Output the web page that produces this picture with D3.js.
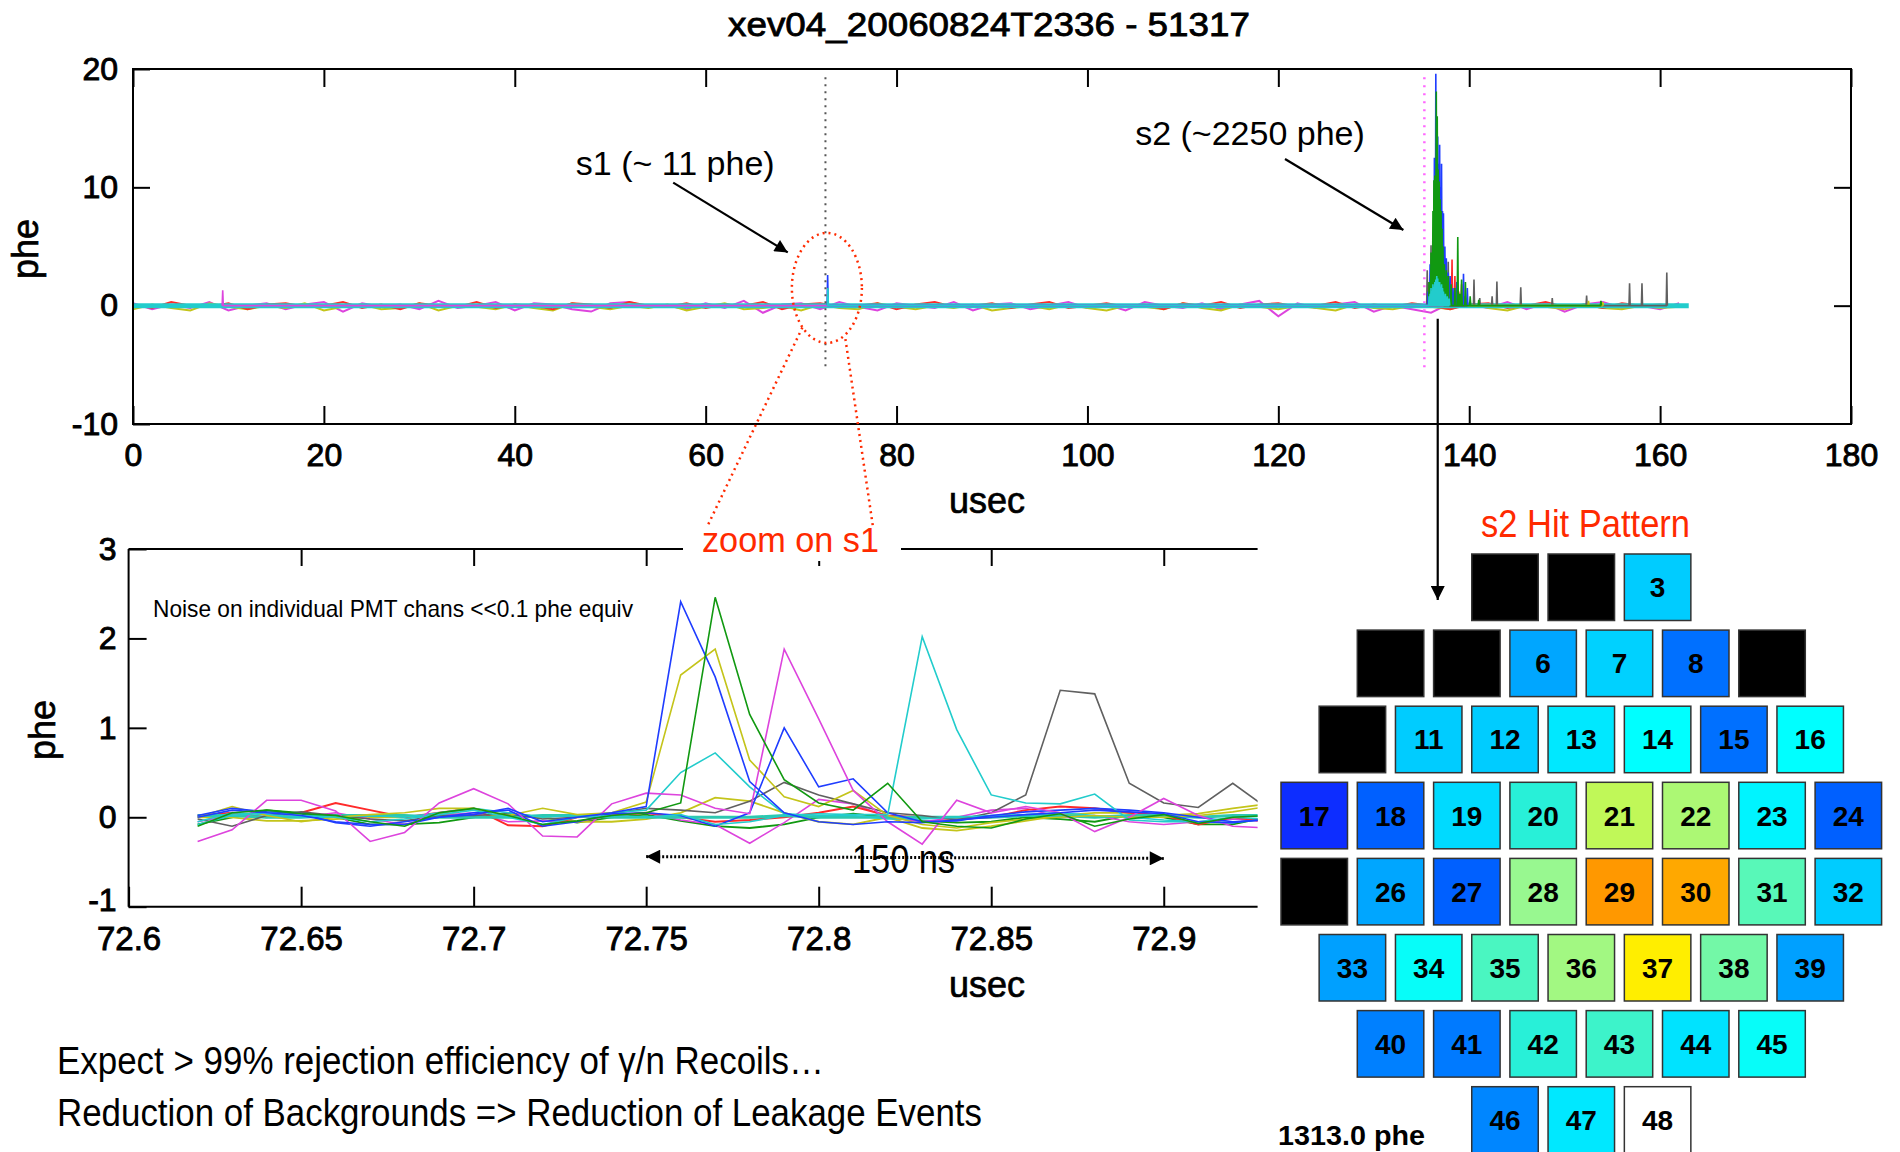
<!DOCTYPE html>
<html>
<head>
<meta charset="utf-8">
<script src="https://cdnjs.cloudflare.com/ajax/libs/d3/7.8.5/d3.min.js"></script>
<style>
  body { margin: 0; background: #fff; }
  svg text { font-family: "Liberation Sans", Arial, Helvetica, sans-serif; }
</style>
</head>
<body>
<svg id="chart" width="1900" height="1152"></svg>
<script>
/*---------- DATA ----------*/
const title = "xev04_20060824T2336 - 51317";

// Full event (top panel), x in usec, y in phe
const topXTicks = [0, 20, 40, 60, 80, 100, 120, 140, 160, 180];
const topYTicks = [-10, 0, 10, 20];
const noiseStep = 2; // usec between baseline samples
const noiseMagenta = [
  0.2, -0.3, 0.1, -0.2, 0.3, -0.4, 0.0, 0.2, -0.3, 0.1,
  0.3, -0.5, 0.2, -0.1, 0.1, -0.3, 0.4, -0.2, 0.0, 0.3,
  -0.4, 0.2, 0.1, -0.3, -0.5, 0.2, 0.3, -0.1, 0.0, -0.3,
  0.2, -0.2, 0.4, -0.6, 0.1, 0.2, -0.3, 0.3, -0.1, -0.4,
  0.2, 0.0, -0.2, 0.3, -0.4, 0.1, 0.2, -0.3, 0.0, 0.3,
  -0.2, 0.1, -0.4, 0.3, 0.0, -0.2, 0.2, -0.3, 0.1, 0.4,
  -0.9, 0.2, -0.2, 0.1, 0.3, -0.5, 0.0, -0.3, -0.6, 0.2,
  0.1, -0.2, 0.3, -0.3, 0.2, -0.5, 0.1, 0.3, -0.2, 0.0,
  -0.3, 0.2,
];
const noiseYellow = [
  -0.3, 0.1, -0.2, -0.4, 0.2, -0.1, -0.3, 0.0, -0.2, 0.2,
  -0.4, -0.1, 0.1, -0.3, -0.2, 0.2, -0.4, 0.0, -0.1, -0.3,
  0.1, -0.2, -0.4, 0.2, -0.1, -0.3, 0.0, -0.2, 0.1, -0.4,
  -0.1, 0.2, -0.3, -0.2, 0.0, -0.4, 0.1, -0.2, -0.3, 0.2,
  -0.1, -0.3, 0.0, -0.2, 0.1, -0.4, -0.2, 0.0, -0.3, 0.1,
  -0.2, -0.4, 0.0, -0.1, -0.3, 0.2, -0.2, -0.4, 0.1, -0.1,
  -0.3, 0.0, -0.2, -0.4, 0.1, -0.2, -0.3, 0.0, -0.1, -0.3,
  0.2, -0.2, -0.4, 0.0, -0.1, -0.3, 0.1, -0.2, -0.3, 0.0,
  -0.2, -0.1,
];
const noiseRed = [
  0.1, -0.2, 0.3, 0.0, -0.1, 0.2, -0.3, 0.1, 0.2, -0.1,
  0.0, 0.3, -0.2, 0.1, -0.3, 0.2, 0.0, -0.1, 0.3, -0.2,
  0.1, 0.0, -0.3, 0.2, 0.1, -0.2, 0.3, 0.0, -0.1, 0.2,
  -0.2, 0.1, 0.0, 0.3, -0.3, 0.1, 0.2, -0.1, 0.0, 0.2,
  -0.3, 0.1, 0.3, -0.1, 0.0, 0.2, -0.2, 0.1, 0.3, -0.2,
  0.0, 0.2, -0.1, 0.1, -0.3, 0.2, 0.0, 0.3, -0.2, 0.1,
  0.2, -0.1, 0.0, 0.3, -0.2, 0.1, -0.1, 0.2, 0.0, -0.3,
  0.1, 0.2, -0.2, 0.0, 0.3, -0.1, 0.1, -0.2, 0.2, 0.0,
  0.1, -0.1,
];
const traceEnd = 163; // usec, end of recorded trace

// Pulses per channel colour: [usec, phe]
const spikesGray = [
  [135.6, 3.0], [135.8, 2.0], [136.0, 5.1], [137.8, 3.7], [138.2, 2.8],
  [140.5, 2.2], [141.1, 0.65], [142.4, 0.8], [142.9, 2.05], [145.4, 1.55],
  [148.7, 0.65], [152.3, 0.85], [156.8, 1.9], [158.1, 1.9], [160.7, 2.8],
];
const spikesYellow = [
  [136.8, 1.0], [137.9, 2.5], [138.3, 1.2], [139.0, 1.0], [152.5, 0.4], [154.0, 0.3],
];
const spikesRed = [
  [135.8, 1.5], [136.1, 2.0], [136.4, 3.0], [136.6, 2.2], [136.8, 2.8],
  [137.0, 1.8], [137.2, 3.5], [137.5, 2.2], [137.8, 1.5], [138.2, 3.9],
  [138.5, 2.5], [138.9, 1.2], [139.2, 1.8], [139.5, 0.8],
];
const spikesBlue = [
  [72.78, 2.6], [135.7, 1.2], [135.9, 3.5], [136.1, 4.0], [136.2, 5.5],
  [136.35, 12.5], [136.5, 19.6], [136.6, 13.8], [136.7, 14.3], [136.8, 12.0],
  [136.9, 13.6], [137.0, 10.0], [137.1, 12.0], [137.2, 8.0], [137.3, 7.8],
  [137.45, 5.0], [137.6, 4.0], [137.8, 2.8], [138.0, 2.5], [138.3, 1.5],
  [138.7, 2.0], [139.4, 2.7], [139.8, 1.5],
];
const spikesGreen = [
  [135.8, 2.0], [136.0, 4.5], [136.2, 8.0], [136.3, 10.6], [136.4, 11.0],
  [136.55, 18.1], [136.65, 16.0], [136.75, 11.5], [136.85, 10.5], [136.95, 9.0],
  [137.05, 8.0], [137.15, 6.5], [137.25, 5.0], [137.4, 3.5], [137.6, 3.0],
  [137.8, 2.5], [138.1, 1.8], [138.5, 1.5], [138.8, 5.8], [139.0, 1.0],
  [139.2, 2.2], [139.6, 2.0], [140.1, 0.8], [141.0, 0.5], [153.8, 0.4],
];
const spikesMagenta = [[9.4, 1.3], [136.1, 1.0], [137.3, 0.6]];
const spikesCyan = [
  [72.8, 1.5], [135.8, 0.8], [135.9, 1.0], [136.0, 1.5], [136.1, 1.2],
  [136.2, 1.8], [136.3, 1.6], [136.4, 2.0], [136.5, 2.2], [136.6, 2.5],
  [136.7, 2.3], [136.8, 2.0], [136.9, 2.0], [137.0, 1.6], [137.1, 1.8],
  [137.2, 1.5], [137.3, 1.2], [137.5, 1.0], [137.7, 0.8], [137.9, 0.6],
];
const s1Time = 72.55;
const s2Time = 135.3;

// Zoom on s1 (lower panel), 10 ns samples
const zoomXTicks = [72.6, 72.65, 72.7, 72.75, 72.8, 72.85, 72.9];
const zoomYTicks = [-1, 0, 1, 2, 3];
const zoomTime = [
  72.62, 72.63, 72.64, 72.65, 72.66, 72.67, 72.68, 72.69, 72.70, 72.71,
  72.72, 72.73, 72.74, 72.75, 72.76, 72.77, 72.78, 72.79, 72.80, 72.81,
  72.82, 72.83, 72.84, 72.85, 72.86, 72.87, 72.88, 72.89, 72.90, 72.91,
  72.92, 72.93,
];
const chGreen2 = [-0.08, 0.00, 0.08, 0.05, 0.00, -0.08, -0.08, -0.06, 0.00, 0.05, 0.00, -0.06, 0.00, 0.03, -0.04, -0.10, -0.12, -0.08, 0.00, 0.04, 0.00, -0.04, -0.06, -0.05, 0.00, -0.02, -0.05, 0.02, 0.00, -0.08, -0.08, 0.00];
const chYellow2 = [0.00, 0.00, -0.04, -0.04, -0.02, 0.00, 0.00, 0.04, 0.02, 0.02, 0.00, -0.05, -0.05, -0.02, 0.05, 0.22, 0.18, 0.05, -0.05, -0.08, 0.00, -0.12, -0.15, -0.10, -0.04, 0.02, 0.05, 0.05, 0.02, 0.04, 0.10, 0.15];
const chMagenta2 = [-0.05, 0.02, 0.00, 0.00, 0.05, -0.02, -0.08, 0.02, 0.05, -0.05, -0.04, -0.05, 0.02, 0.05, -0.03, -0.08, -0.29, -0.06, 0.20, 0.15, 0.00, -0.05, 0.00, 0.08, 0.10, 0.00, 0.02, -0.05, -0.08, -0.05, -0.02, -0.05];
const chRed = [0.02, 0.05, 0.00, 0.05, 0.16, 0.08, 0.00, 0.05, 0.10, -0.09, -0.10, 0.00, 0.02, 0.05, 0.00, -0.05, -0.03, 0.00, 0.05, 0.12, 0.02, 0.00, -0.02, 0.00, 0.08, 0.12, 0.10, 0.05, 0.02, -0.08, 0.00, -0.05];
const chCyan3 = [0.02, 0.02, 0.00, 0.00, 0.02, 0.02, 0.02, 0.00, 0.00, 0.00, 0.02, 0.02, 0.00, 0.00, 0.00, 0.00, 0.00, 0.02, 0.00, 0.00, 0.00, 0.00, 0.00, 0.00, 0.02, 0.02, 0.00, 0.02, 0.02, 0.00, 0.02, 0.02];
const chGray = [-0.02, -0.10, 0.02, 0.06, 0.02, -0.02, -0.04, 0.02, 0.02, 0.04, -0.02, 0.00, 0.04, 0.10, 0.08, 0.05, 0.18, 0.39, 0.25, 0.15, 0.05, 0.02, -0.03, 0.05, 0.25, 1.42, 1.38, 0.38, 0.16, 0.11, 0.38, 0.10];
const chCyan1 = [-0.05, 0.05, 0.03, 0.00, 0.00, 0.02, 0.00, 0.05, 0.10, 0.05, 0.00, 0.02, 0.05, 0.08, 0.50, 0.72, 0.34, 0.04, 0.02, 0.02, -0.02, -0.02, 0.00, 0.02, 0.03, 0.05, 0.02, 0.00, -0.03, -0.05, -0.06, -0.02];
const chYellow1 = [0.00, 0.12, 0.02, -0.05, 0.00, 0.03, 0.05, 0.10, 0.10, 0.02, 0.10, 0.03, 0.05, 0.17, 1.59, 1.88, 0.64, 0.23, 0.12, 0.30, 0.02, -0.08, -0.12, -0.06, -0.02, 0.00, 0.02, 0.00, 0.00, 0.02, 0.06, 0.12];
const chBlue2 = [0.02, 0.10, 0.06, 0.04, -0.06, -0.10, -0.05, 0.00, 0.05, 0.08, -0.10, -0.05, 0.04, 0.05, 0.02, -0.10, 0.05, 1.00, 0.34, 0.43, 0.05, -0.05, -0.04, 0.02, 0.06, 0.08, 0.10, 0.08, 0.05, 0.00, -0.05, -0.03];
const chMagenta1 = [-0.27, -0.14, 0.19, 0.19, 0.07, -0.27, -0.17, 0.16, 0.32, 0.15, -0.21, -0.22, 0.15, 0.27, 0.25, 0.10, 0.04, 1.88, 1.10, 0.30, -0.05, -0.30, 0.19, 0.05, 0.12, 0.05, -0.16, 0.00, 0.21, 0.02, -0.10, -0.12];
const chCyan2 = [-0.08, 0.02, 0.05, 0.02, 0.00, -0.05, -0.02, 0.03, 0.08, 0.00, -0.08, 0.00, 0.02, 0.00, 0.03, -0.08, -0.05, 0.02, 0.04, 0.03, 0.03, 2.02, 0.98, 0.25, 0.16, 0.15, 0.26, -0.03, -0.05, -0.05, 0.00, -0.02];
const chBlue1 = [0.00, 0.08, 0.05, 0.02, -0.05, -0.08, -0.08, 0.00, 0.03, 0.10, -0.05, 0.00, 0.05, 0.12, 2.41, 1.57, 0.40, 0.05, -0.05, -0.08, -0.05, -0.06, -0.03, 0.00, 0.03, 0.05, 0.08, 0.06, 0.04, -0.05, -0.06, -0.02];
const chGreen1 = [-0.10, 0.05, 0.08, 0.04, 0.02, -0.05, -0.10, 0.05, 0.10, 0.02, -0.08, -0.04, 0.02, 0.05, 0.16, 2.46, 1.15, 0.42, 0.16, 0.08, 0.38, -0.05, -0.10, -0.12, -0.02, 0.04, -0.10, -0.02, 0.03, -0.07, 0.00, 0.02];
const spanStart = 72.75; // 150 ns marker
const spanEnd = 72.9;

// s2 hit pattern, relative signal per PMT (1..48); null = no signal shown
const rowCounts = [3, 6, 7, 8, 8, 7, 6, 3];
const rowOffsets = [2.5, 1, 0.5, 0, 0, 0.5, 1, 2.5];
const deadPmts = [1, 2, 4, 5, 9, 10, 25];
const hitLevels = [
  null, null, 0.32,
  null, null, 0.26, 0.33, 0.15, null,
  null, 0.32, 0.32, 0.38, 0.42, 0.15, 0.42,
  0.02, 0.10, 0.35, 0.48, 0.70, 0.66, 0.40, 0.10,
  null, 0.26, 0.10, 0.62, 0.95, 0.90, 0.55, 0.32,
  0.25, 0.43, 0.53, 0.64, 0.80, 0.58, 0.25,
  0.20, 0.18, 0.48, 0.51, 0.37, 0.43,
  0.21, 0.38, null,
];
const hitTotal = "1313.0 phe";
const colorStops = [0.0, 0.10, 0.20, 0.25, 0.32, 0.38, 0.42, 0.48, 0.55, 0.62, 0.70, 0.80, 0.90, 0.95];
const colorRange = ["#1020ff", "#0060ff", "#0080ff", "#00a0ff", "#00ccff", "#00e8ff", "#00ffff",
  "#28f0d8", "#58f8b8", "#98f890", "#c0f858", "#ffee00", "#ffa800", "#ff9800"];

const notes = [
  "Expect > 99% rejection efficiency of \u03b3/n Recoils\u2026",
  "Reduction of Backgrounds => Reduction of Leakage Events",
];

/*---------- SETUP ----------*/
const FONT = '"Liberation Sans", Arial, Helvetica, sans-serif';
const COL = {
  blue: "#1f3dff", green: "#119911", red: "#ff2a2a", cyan: "#22cccc",
  magenta: "#dd44dd", yellow: "#c4c41a", gray: "#606060", note: "#ff2a00",
};
const fmt = (d) => String(d);

const svg = d3.select("#chart");
svg.append("rect").attr("width", 1900).attr("height", 1152).attr("fill", "#fff");

const defs = svg.append("defs");
function addArrow(id, w, h) {
  defs.append("marker")
    .attr("id", id)
    .attr("viewBox", "0 0 10 10")
    .attr("refX", 10).attr("refY", 5)
    .attr("markerUnits", "userSpaceOnUse")
    .attr("markerWidth", w).attr("markerHeight", h)
    .attr("orient", "auto-start-reverse")
    .append("path").attr("d", "M0,0 L10,5 L0,10 z").attr("fill", "#000");
}
addArrow("arrow", 16, 13);
addArrow("arrowBig", 16, 14);

// Heavier text, like the bitmap fonts of the original plot
function heavy(sel, w) {
  return sel.attr("stroke", "#000").attr("stroke-width", w).attr("paint-order", "stroke");
}

function styleAxis(g, size) {
  g.select(".domain").remove();
  g.selectAll(".tick line").attr("stroke", "#000").attr("stroke-width", 2);
  g.selectAll(".tick text")
    .attr("font-size", size).attr("font-family", FONT).attr("fill", "#000")
    .call((t) => heavy(t, 0.9));
}

/*---------- TOP PANEL ----------*/
const topX = d3.scaleLinear().domain([0, 180]).range([133, 1851]);
const topY = d3.scaleLinear().domain([-10, 20]).range([424, 69]);

svg.append("text")
  .attr("x", 989).attr("y", 36)
  .attr("text-anchor", "middle")
  .attr("font-size", 33)
  .attr("textLength", 522).attr("lengthAdjust", "spacingAndGlyphs")
  .text(title)
  .call((t) => heavy(t, 0.8));

svg.append("g").attr("transform", `translate(0,${topY(-10)})`)
  .call(d3.axisBottom(topX).tickValues(topXTicks).tickSizeInner(-18).tickSizeOuter(0).tickPadding(19).tickFormat(fmt))
  .call((g) => styleAxis(g, 32));
svg.append("g").attr("transform", `translate(0,${topY(20)})`)
  .call(d3.axisTop(topX).tickValues(topXTicks).tickSizeInner(-18).tickSizeOuter(0).tickFormat(""))
  .call((g) => styleAxis(g, 32));
svg.append("g").attr("transform", `translate(${topX(0)},0)`)
  .call(d3.axisLeft(topY).tickValues(topYTicks).tickSizeInner(-17).tickSizeOuter(0).tickPadding(15).tickFormat(fmt))
  .call((g) => styleAxis(g, 32));
svg.append("g").attr("transform", `translate(${topX(180)},0)`)
  .call(d3.axisRight(topY).tickValues([0, 10]).tickSizeInner(-17).tickSizeOuter(0).tickFormat(""))
  .call((g) => styleAxis(g, 32));

defs.append("clipPath").attr("id", "clipTop").append("rect")
  .attr("x", topX(0)).attr("y", topY(20))
  .attr("width", topX(180) - topX(0)).attr("height", topY(-10) - topY(20));

const topLine = d3.line().x((d) => topX(d[0])).y((d) => topY(d[1]));
const topData = svg.append("g").attr("clip-path", "url(#clipTop)");

// baseline noise
[[noiseMagenta, COL.magenta], [noiseYellow, COL.yellow], [noiseRed, COL.red]].forEach(([vals, c]) => {
  topData.append("path")
    .datum(vals.map((v, i) => [i * noiseStep, v]))
    .attr("d", topLine)
    .attr("fill", "none").attr("stroke", c).attr("stroke-width", 2);
});
topData.append("path")
  .datum([[0, 0], [traceEnd, 0]])
  .attr("d", topLine)
  .attr("fill", "none").attr("stroke", COL.cyan).attr("stroke-width", 5);

// pulses
function spikePoints(spikes) {
  let pts = [];
  spikes.forEach(([t, v]) => pts.push([t - 0.06, 0], [t, v], [t + 0.06, 0]));
  return pts;
}
[
  [spikesGray, COL.gray], [spikesYellow, COL.yellow], [spikesRed, COL.red],
  [spikesBlue, COL.blue], [spikesGreen, COL.green], [spikesMagenta, COL.magenta],
  [spikesCyan, COL.cyan],
].forEach(([sp, c]) => {
  topData.append("path")
    .datum(spikePoints(sp))
    .attr("d", topLine)
    .attr("fill", "none").attr("stroke", c).attr("stroke-width", 1.6);
});

svg.append("rect")
  .attr("x", topX(0)).attr("y", topY(20))
  .attr("width", topX(180) - topX(0)).attr("height", topY(-10) - topY(20))
  .attr("fill", "none").attr("stroke", "#000").attr("stroke-width", 2);

// s1 / s2 markers
svg.append("line")
  .attr("x1", topX(s1Time)).attr("x2", topX(s1Time))
  .attr("y1", topY(19.3)).attr("y2", topY(-5.2))
  .attr("stroke", "#555").attr("stroke-width", 2).attr("stroke-dasharray", "2,5");
svg.append("line")
  .attr("x1", topX(s2Time)).attr("x2", topX(s2Time))
  .attr("y1", topY(19.3)).attr("y2", topY(-5.2))
  .attr("stroke", "#ff66ff").attr("stroke-width", 2.5).attr("stroke-dasharray", "2,6");

svg.append("text").attr("x", 987).attr("y", 513)
  .attr("text-anchor", "middle").attr("font-size", 36).text("usec")
  .call((t) => heavy(t, 0.7));
svg.append("text")
  .attr("transform", "translate(38,249) rotate(-90)")
  .attr("text-anchor", "middle").attr("font-size", 36).text("phe")
  .call((t) => heavy(t, 0.7));

// annotations
svg.append("text").attr("x", topX(46.4)).attr("y", topY(11.05))
  .attr("font-size", 34).text("s1 (~ 11 phe)");
svg.append("line")
  .attr("x1", topX(56.6)).attr("y1", topY(10.4))
  .attr("x2", topX(68.6)).attr("y2", topY(4.5))
  .attr("stroke", "#000").attr("stroke-width", 2.2).attr("marker-end", "url(#arrow)");
svg.append("text").attr("x", topX(105.0)).attr("y", topY(13.6))
  .attr("font-size", 34).text("s2 (~2250 phe)");
svg.append("line")
  .attr("x1", topX(120.7)).attr("y1", topY(12.4))
  .attr("x2", topX(133.1)).attr("y2", topY(6.4))
  .attr("stroke", "#000").attr("stroke-width", 2.2).attr("marker-end", "url(#arrow)");

// zoom ellipse and guide lines
const ex = topX(72.7), ey = topY(1.5), erx = 35, ery = 55;
svg.append("ellipse")
  .attr("cx", ex).attr("cy", ey).attr("rx", erx).attr("ry", ery)
  .attr("fill", "none").attr("stroke", COL.note).attr("stroke-width", 2.5)
  .attr("stroke-dasharray", "2,4");
svg.append("line")
  .attr("x1", ex - erx * 0.7).attr("y1", ey + ery * 0.72).attr("x2", 707).attr("y2", 527)
  .attr("stroke", COL.note).attr("stroke-width", 2.5).attr("stroke-dasharray", "2,4");
svg.append("line")
  .attr("x1", ex + erx * 0.53).attr("y1", ey + ery * 0.93).attr("x2", 873).attr("y2", 527)
  .attr("stroke", COL.note).attr("stroke-width", 2.5).attr("stroke-dasharray", "2,4");

// line to hit pattern
svg.append("line")
  .attr("x1", topX(136.7)).attr("y1", topY(-1.1))
  .attr("x2", topX(136.7)).attr("y2", 600)
  .attr("stroke", "#000").attr("stroke-width", 2.2).attr("marker-end", "url(#arrowBig)");

/*---------- LOWER PANEL (zoom on s1) ----------*/
const lowX = d3.scaleLinear().domain([72.6, 72.9272]).range([128.6, 1257.6]);
const lowY = d3.scaleLinear().domain([-1, 3]).range([906.7, 549]);

svg.append("g").attr("transform", `translate(0,${lowY(-1)})`)
  .call(d3.axisBottom(lowX).tickValues(zoomXTicks).tickSizeInner(-20).tickSizeOuter(0).tickPadding(20).tickFormat(fmt))
  .call((g) => styleAxis(g, 33));
svg.append("g").attr("transform", `translate(0,${lowY(3)})`)
  .call(d3.axisTop(lowX).tickValues(zoomXTicks.slice(1)).tickSizeInner(-17).tickSizeOuter(0).tickFormat(""))
  .call((g) => styleAxis(g, 33));
svg.append("g").attr("transform", `translate(${lowX(72.6)},0)`)
  .call(d3.axisLeft(lowY).tickValues(zoomYTicks).tickSizeInner(-18).tickSizeOuter(0).tickPadding(12).tickFormat(fmt))
  .call((g) => styleAxis(g, 32))
  .call((g) => g.selectAll(".tick text").filter((d) => d === -1).attr("dy", "0.12em"));

defs.append("clipPath").attr("id", "clipLow").append("rect")
  .attr("x", lowX(72.6)).attr("y", lowY(3))
  .attr("width", lowX(72.9272) - lowX(72.6)).attr("height", lowY(-1) - lowY(3));

const lowLine = d3.line()
  .x((d, i) => lowX(zoomTime[i]))
  .y((d) => lowY(d));
const lowData = svg.append("g").attr("clip-path", "url(#clipLow)");
[
  [chGreen2, COL.green, 1.8], [chYellow2, COL.yellow, 1.8], [chMagenta2, COL.magenta, 1.6],
  [chRed, COL.red, 2], [chCyan3, "#2cc8b0", 3], [chGray, COL.gray, 1.6],
  [chCyan1, COL.cyan, 1.6], [chYellow1, COL.yellow, 1.6], [chBlue2, COL.blue, 1.6],
  [chMagenta1, COL.magenta, 1.6], [chCyan2, COL.cyan, 1.6], [chBlue1, COL.blue, 1.6],
  [chGreen1, COL.green, 1.6],
].forEach(([vals, c, w]) => {
  lowData.append("path")
    .datum(vals)
    .attr("d", lowLine)
    .attr("fill", "none").attr("stroke", c).attr("stroke-width", w);
});

// frame: left, bottom, top (open on the right)
const frame = svg.append("g").attr("stroke", "#000").attr("stroke-width", 2);
frame.append("line").attr("x1", lowX(72.6)).attr("x2", lowX(72.6)).attr("y1", lowY(3)).attr("y2", lowY(-1));
frame.append("line").attr("x1", lowX(72.6)).attr("x2", lowX(72.9272)).attr("y1", lowY(-1)).attr("y2", lowY(-1));
frame.append("line").attr("x1", lowX(72.6)).attr("x2", lowX(72.9272)).attr("y1", lowY(3)).attr("y2", lowY(3));

svg.append("rect").attr("x", 683).attr("y", 535).attr("width", 218).attr("height", 26).attr("fill", "#fff");
svg.append("text").attr("x", 702).attr("y", 552)
  .attr("font-size", 35).attr("fill", COL.note)
  .attr("textLength", 177).attr("lengthAdjust", "spacingAndGlyphs")
  .text("zoom on s1");

svg.append("text").attr("x", 153).attr("y", 617)
  .attr("font-size", 24)
  .attr("textLength", 480).attr("lengthAdjust", "spacingAndGlyphs")
  .text("Noise on individual PMT chans <<0.1 phe equiv");

svg.append("line")
  .attr("x1", lowX(spanStart)).attr("y1", lowY(-0.44))
  .attr("x2", lowX(spanEnd)).attr("y2", lowY(-0.46))
  .attr("stroke", "#000").attr("stroke-width", 3).attr("stroke-dasharray", "2,2")
  .attr("marker-start", "url(#arrowBig)").attr("marker-end", "url(#arrowBig)");
svg.append("text").attr("x", 852).attr("y", 873)
  .attr("font-size", 40)
  .attr("textLength", 103).attr("lengthAdjust", "spacingAndGlyphs")
  .text("150 ns");

svg.append("text").attr("x", 987).attr("y", 997)
  .attr("text-anchor", "middle").attr("font-size", 36).text("usec")
  .call((t) => heavy(t, 0.7));
svg.append("text")
  .attr("transform", "translate(55,730) rotate(-90)")
  .attr("text-anchor", "middle").attr("font-size", 36).text("phe")
  .call((t) => heavy(t, 0.7));

/*---------- HIT PATTERN ----------*/
const colX = d3.scaleLinear().domain([0, 7]).range([1281, 1281 + 7 * 76.3]);
const rowY = d3.scaleLinear().domain([0, 7]).range([554, 554 + 7 * 76.1]);
const cellSize = 66.5;
const hitColor = d3.scaleLinear().domain(colorStops).range(colorRange).clamp(true);

let cells = [];
let pmt = 1;
rowCounts.forEach((n, r) => {
  for (let c = 0; c < n; c++) {
    cells.push({ pmt: pmt, row: r, col: rowOffsets[r] + c, level: hitLevels[pmt - 1] });
    pmt++;
  }
});

const cellG = svg.append("g").selectAll("g").data(cells).join("g")
  .attr("transform", (d) => `translate(${colX(d.col)},${rowY(d.row)})`);
cellG.append("rect")
  .attr("width", cellSize).attr("height", cellSize)
  .attr("fill", (d) => deadPmts.includes(d.pmt) ? "#000" : d.level == null ? "#fff" : hitColor(d.level))
  .attr("stroke", "#333").attr("stroke-width", 1.5);
cellG.filter((d) => !deadPmts.includes(d.pmt))
  .append("text")
  .attr("x", cellSize / 2).attr("y", cellSize / 2 + 10)
  .attr("text-anchor", "middle")
  .attr("font-size", 28).attr("font-weight", "bold").attr("fill", "#000")
  .text((d) => d.pmt);

svg.append("text").attr("x", 1481).attr("y", 537)
  .attr("font-size", 38).attr("fill", COL.note)
  .attr("textLength", 209).attr("lengthAdjust", "spacingAndGlyphs")
  .text("s2 Hit Pattern");
svg.append("text").attr("x", 1278).attr("y", 1145)
  .attr("font-size", 27).attr("font-weight", "bold")
  .attr("textLength", 147).attr("lengthAdjust", "spacingAndGlyphs")
  .text(hitTotal);

/*---------- NOTES ----------*/
svg.append("text").attr("x", 57).attr("y", 1074)
  .attr("font-size", 38)
  .attr("textLength", 767).attr("lengthAdjust", "spacingAndGlyphs")
  .text(notes[0]);
svg.append("text").attr("x", 57).attr("y", 1126)
  .attr("font-size", 38)
  .attr("textLength", 925).attr("lengthAdjust", "spacingAndGlyphs")
  .text(notes[1]);
</script>
</body>
</html>
